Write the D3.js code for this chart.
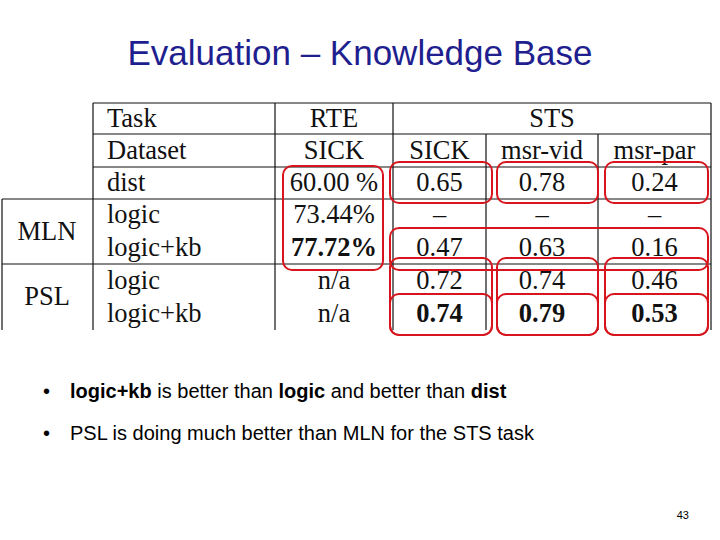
<!DOCTYPE html>
<html><head><meta charset="utf-8">
<script src="https://cdn.jsdelivr.net/npm/d3@7"></script>
<style>body{margin:0;background:#fff}</style>
</head><body>
<div id="slide"></div>
<script>
const width = 720, height = 540
const title = "Evaluation – Knowledge Base"
const rowLabels = ["Task", "Dataset", "dist", "logic", "logic+kb", "logic", "logic+kb"]
const groupLabels = [{name: "MLN", from: 3, to: 4}, {name: "PSL", from: 5, to: 6}]
const rteValues = ["60.00 %", "73.44%", "77.72%", "n/a", "n/a"]
const stsSick = ["0.65", "–", "0.47", "0.72", "0.74"]
const stsVid = ["0.78", "–", "0.63", "0.74", "0.79"]
const stsPar = ["0.24", "–", "0.16", "0.46", "0.53"]
const boldCells = [[4, 1], [6, 2], [6, 3], [6, 4]]
const bullets = [
  [["logic+kb", true], [" is better than ", false], ["logic", true], [" and better than ", false], ["dist", true]],
  [["PSL is doing much better than MLN for the STS task", false]]
]
const pageNumber = "43"

// column edges
const colEdges = [93, 275, 393, 486, 598, 711]
const rowEdges = [103, 134, 167, 199, 231, 264, 297, 330]

let svg = d3.select("#slide").append("svg").attr("width", width).attr("height", height)

svg.append("text").attr("x", 360).attr("y", 65).attr("text-anchor", "middle")
  .style("font-family", "Liberation Sans, Arial").style("font-size", "35px")
  .style("fill", "#1f1f8f").text(title)

let y = i => rowEdges[i], yc = i => (rowEdges[i] + rowEdges[i + 1]) / 2

let lines = svg.append("g").attr("stroke", "#111").attr("stroke-width", 1.2)
// horizontal lines
lines.append("line").attr("x1", 93).attr("x2", 711).attr("y1", y(0)).attr("y2", y(0))
lines.append("line").attr("x1", 93).attr("x2", 711).attr("y1", y(1)).attr("y2", y(1))
lines.append("line").attr("x1", 93).attr("x2", 711).attr("y1", y(2)).attr("y2", y(2))
lines.append("line").attr("x1", 2).attr("x2", 711).attr("y1", y(3)).attr("y2", y(3))
lines.append("line").attr("x1", 2).attr("x2", 711).attr("y1", y(5)).attr("y2", y(5))
// verticals
colEdges.forEach(function(x, i){
  let top = (i == 3 || i == 4) ? y(1) : y(0)
  lines.append("line").attr("x1", x).attr("x2", x).attr("y1", top).attr("y2", y(7))
})
lines.append("line").attr("x1", 2).attr("x2", 2).attr("y1", y(3)).attr("y2", y(7))

let cell = function(x, yy, txt, anchor, bold){
  svg.append("text").attr("x", x).attr("y", yy + 8).attr("text-anchor", anchor)
    .style("font-family", "Liberation Serif, Times New Roman, serif").style("font-size", "26.5px")
    .style("font-weight", bold ? "bold" : "normal").style("fill", "#111").text(txt)
}
let isBold = (r, c) => boldCells.some(b => b[0] == r && b[1] == c)

rowLabels.forEach((t, i) => cell(107, yc(i), t, "start", false))
groupLabels.forEach(g => cell(47, (y(g.from) + y(g.to + 1)) / 2, g.name, "middle", false))

let mid = c => (colEdges[c] + colEdges[c + 1]) / 2
cell(mid(1), yc(0), "RTE", "middle", false)
cell((colEdges[2] + colEdges[5]) / 2, yc(0), "STS", "middle", false)
;["SICK", "SICK", "msr-vid", "msr-par"].forEach((t, c) => cell(mid(c + 1), yc(1), t, "middle", false))
;[rteValues, stsSick, stsVid, stsPar].forEach(function(col, c){
  col.forEach((v, r) => cell(mid(c + 1), yc(r + 2), v, "middle", isBold(r + 2, c + 1)))
})

// red highlight boxes
const boxes = [
  [283, 166, 383, 270], [390, 162, 492, 203], [497, 162, 598, 203], [605, 162, 708, 203],
  [390, 228, 708, 270],
  [390, 258, 492, 335], [497, 258, 598, 335], [605, 258, 708, 335],
  [390, 294, 492, 335], [497, 294, 598, 335], [605, 294, 708, 335]
]
svg.append("g").selectAll("rect").data(boxes).enter().append("rect")
  .attr("x", d => d[0]).attr("y", d => d[1]).attr("width", d => d[2] - d[0]).attr("height", d => d[3] - d[1])
  .attr("rx", 9).attr("fill", "none").attr("stroke", "#d8141c").attr("stroke-width", 2)

bullets.forEach(function(parts, i){
  let by = 398 + i * 42
  svg.append("text").attr("x", 43).attr("y", by).style("font-family", "Liberation Sans, Arial")
    .style("font-size", "20px").text("•")
  let t = svg.append("text").attr("x", 70).attr("y", by).style("font-family", "Liberation Sans, Arial")
    .style("font-size", "20px").style("fill", "#000")
  parts.forEach(p => t.append("tspan").style("font-weight", p[1] ? "bold" : "normal").text(p[0]))
})

svg.append("text").attr("x", 689).attr("y", 519).attr("text-anchor", "end")
  .style("font-family", "Liberation Sans, Arial").style("font-size", "11px").text(pageNumber)
</script>
</body></html>
